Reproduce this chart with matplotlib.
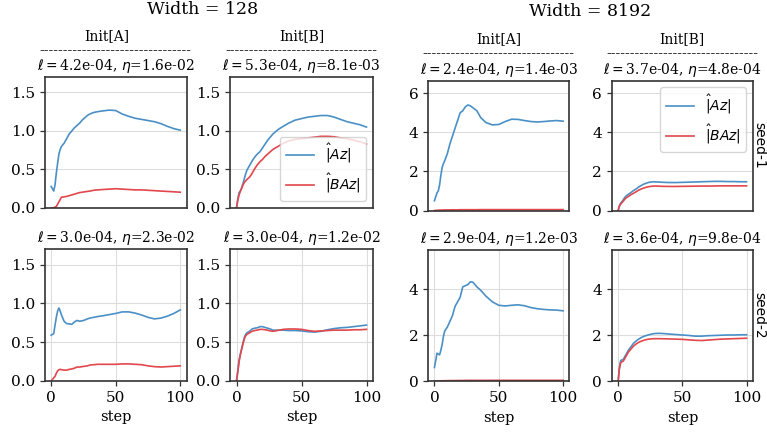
import matplotlib
matplotlib.use("Agg")
import matplotlib.pyplot as plt

steps = [0, 1, 2, 3, 4, 5, 6, 7, 8, 10, 12, 14, 16, 18, 20, 22, 24, 26, 28, 30,
         33, 36, 40, 45, 50, 55, 60, 65, 70, 75, 80, 85, 90, 95, 100]

# width 128, Init[A], seed-1
az_128_a_s1 = [0.28, 0.25, 0.22, 0.30, 0.45, 0.58, 0.70, 0.76, 0.80, 0.84, 0.90, 0.96, 1.00, 1.04,
               1.07, 1.10, 1.14, 1.17, 1.20, 1.22, 1.24, 1.25, 1.26, 1.27, 1.265, 1.22, 1.19,
               1.165, 1.15, 1.135, 1.12, 1.095, 1.06, 1.03, 1.01]
baz_128_a_s1 = [0.0, 0.0, 0.005, 0.01, 0.02, 0.05, 0.08, 0.11, 0.14, 0.145, 0.15, 0.16, 0.17,
                0.18, 0.19, 0.20, 0.205, 0.21, 0.215, 0.22, 0.23, 0.235, 0.24, 0.245, 0.25,
                0.245, 0.24, 0.235, 0.235, 0.23, 0.225, 0.22, 0.215, 0.21, 0.205]
# width 128, Init[B], seed-1
az_128_b_s1 = [0.0, 0.12, 0.20, 0.22, 0.26, 0.32, 0.38, 0.44, 0.49, 0.55, 0.61, 0.66, 0.70, 0.73,
               0.78, 0.83, 0.88, 0.92, 0.96, 0.99, 1.03, 1.06, 1.10, 1.14, 1.16, 1.18, 1.19,
               1.20, 1.20, 1.18, 1.15, 1.12, 1.10, 1.08, 1.05]
baz_128_b_s1 = [0.0, 0.10, 0.17, 0.22, 0.26, 0.30, 0.33, 0.35, 0.37, 0.40, 0.45, 0.51, 0.56, 0.60,
                0.63, 0.67, 0.70, 0.73, 0.76, 0.78, 0.81, 0.84, 0.87, 0.89, 0.90, 0.91, 0.92,
                0.93, 0.93, 0.925, 0.91, 0.90, 0.88, 0.86, 0.83]
# width 128, Init[A], seed-2
az_128_a_s2 = [0.59, 0.60, 0.61, 0.72, 0.82, 0.90, 0.94, 0.90, 0.85, 0.77, 0.74, 0.735, 0.73,
               0.76, 0.78, 0.77, 0.775, 0.785, 0.80, 0.81, 0.82, 0.83, 0.84, 0.855, 0.87, 0.89,
               0.89, 0.875, 0.85, 0.82, 0.80, 0.81, 0.835, 0.87, 0.915]
baz_128_a_s2 = [0.0, 0.02, 0.04, 0.06, 0.10, 0.13, 0.145, 0.15, 0.145, 0.14, 0.14, 0.15, 0.155,
                0.165, 0.18, 0.18, 0.185, 0.19, 0.195, 0.205, 0.21, 0.215, 0.215, 0.215, 0.215,
                0.22, 0.22, 0.215, 0.21, 0.195, 0.185, 0.18, 0.185, 0.19, 0.195]
# width 128, Init[B], seed-2
az_128_b_s2 = [0.0, 0.13, 0.27, 0.35, 0.42, 0.49, 0.56, 0.60, 0.62, 0.64, 0.67, 0.68, 0.685,
               0.70, 0.70, 0.69, 0.68, 0.67, 0.655, 0.655, 0.655, 0.655, 0.65, 0.65, 0.645,
               0.635, 0.63, 0.64, 0.66, 0.675, 0.685, 0.69, 0.70, 0.71, 0.72]
baz_128_b_s2 = [0.0, 0.12, 0.25, 0.34, 0.41, 0.48, 0.54, 0.58, 0.60, 0.62, 0.64, 0.65, 0.655,
                0.665, 0.665, 0.66, 0.655, 0.645, 0.64, 0.645, 0.655, 0.665, 0.67, 0.67, 0.665,
                0.65, 0.64, 0.645, 0.65, 0.655, 0.655, 0.655, 0.66, 0.66, 0.665]

# width 8192, Init[A], seed-1
az_8192_a_s1 = [0.5, 0.7, 0.9, 1.0, 1.3, 1.8, 2.2, 2.4, 2.55, 2.9, 3.4, 3.8, 4.2, 4.6, 5.0, 5.1,
                5.3, 5.4, 5.35, 5.25, 5.1, 4.75, 4.5, 4.38, 4.4, 4.55, 4.67, 4.66, 4.6, 4.55,
                4.53, 4.55, 4.58, 4.6, 4.57]
baz_8192_a_s1 = [0.0, 0.005, 0.01, 0.015, 0.02, 0.02, 0.025, 0.025, 0.03, 0.03, 0.03, 0.035,
                 0.035, 0.035, 0.04, 0.04, 0.04, 0.04, 0.04, 0.04, 0.04, 0.045, 0.045, 0.045,
                 0.045, 0.045, 0.045, 0.045, 0.045, 0.045, 0.045, 0.045, 0.045, 0.045, 0.045]
# width 8192, Init[B], seed-1
az_8192_b_s1 = [0.0, 0.25, 0.38, 0.45, 0.55, 0.65, 0.73, 0.78, 0.83, 0.92, 1.02, 1.10, 1.20,
                1.28, 1.35, 1.40, 1.44, 1.46, 1.47, 1.46, 1.45, 1.44, 1.43, 1.43, 1.44, 1.45,
                1.46, 1.47, 1.48, 1.49, 1.49, 1.48, 1.48, 1.47, 1.47]
baz_8192_b_s1 = [0.0, 0.22, 0.33, 0.40, 0.48, 0.56, 0.63, 0.68, 0.72, 0.81, 0.88, 0.96, 1.04,
                 1.10, 1.15, 1.19, 1.22, 1.24, 1.25, 1.25, 1.24, 1.235, 1.23, 1.23, 1.235, 1.24,
                 1.245, 1.25, 1.25, 1.255, 1.26, 1.26, 1.26, 1.26, 1.26]
# width 8192, Init[A], seed-2
az_8192_a_s2 = [0.6, 0.9, 1.22, 1.18, 1.15, 1.35, 1.6, 1.95, 2.18, 2.35, 2.6, 2.85, 3.25, 3.45,
                3.65, 4.1, 4.15, 4.2, 4.32, 4.3, 4.1, 3.95, 3.7, 3.45, 3.3, 3.27, 3.3, 3.32,
                3.28, 3.2, 3.15, 3.12, 3.1, 3.09, 3.06]
baz_8192_a_s2 = [0.0, 0.005, 0.01, 0.012, 0.015, 0.018, 0.02, 0.022, 0.025, 0.028, 0.03, 0.03,
                 0.032, 0.035, 0.035, 0.035, 0.038, 0.04, 0.04, 0.04, 0.04, 0.04, 0.04, 0.042,
                 0.042, 0.042, 0.042, 0.042, 0.042, 0.042, 0.042, 0.042, 0.042, 0.042, 0.042]
# width 8192, Init[B], seed-2
az_8192_b_s2 = [0.0, 0.6, 0.9, 0.93, 0.95, 1.05, 1.15, 1.25, 1.35, 1.5, 1.65, 1.75, 1.83, 1.9,
                1.95, 1.99, 2.02, 2.05, 2.07, 2.08, 2.08, 2.07, 2.05, 2.03, 2.01, 1.99, 1.96,
                1.96, 1.98, 1.99, 2.0, 2.01, 2.01, 2.02, 2.02]
baz_8192_b_s2 = [0.0, 0.55, 0.8, 0.85, 0.88, 0.97, 1.07, 1.17, 1.27, 1.4, 1.53, 1.62, 1.69,
                 1.74, 1.78, 1.81, 1.83, 1.845, 1.85, 1.85, 1.85, 1.845, 1.84, 1.83, 1.82, 1.8,
                 1.78, 1.77, 1.79, 1.81, 1.83, 1.84, 1.85, 1.86, 1.87]

widths = ["128", "8192"]
inits = ["Init[A]", "Init[B]"]
seeds = ["seed-1", "seed-2"]
hparams = [
    ["4.2e-04", "1.6e-02", "5.3e-04", "8.1e-03", "2.4e-04", "1.4e-03", "3.7e-04", "4.8e-04"],
    ["3.0e-04", "2.3e-02", "3.0e-04", "1.2e-02", "2.9e-04", "1.2e-03", "3.6e-04", "9.8e-04"],
]
series = [
    [(az_128_a_s1, baz_128_a_s1), (az_128_b_s1, baz_128_b_s1),
     (az_8192_a_s1, baz_8192_a_s1), (az_8192_b_s1, baz_8192_b_s1)],
    [(az_128_a_s2, baz_128_a_s2), (az_128_b_s2, baz_128_b_s2),
     (az_8192_a_s2, baz_8192_a_s2), (az_8192_b_s2, baz_8192_b_s2)],
]

plt.rcParams["font.family"] = "DejaVu Serif"
plt.rcParams["mathtext.fontset"] = "dejavusans"

W, H = 767, 432
fig = plt.figure(figsize=(W / 100, H / 100), dpi=100)

blue = "#4a90c6"
red = "#e2474c"

# pixel boxes: left, right for columns; top, bottom for rows (per group)
cols = [(44.7, 186.7), (230, 373), (428, 569.5), (611.7, 753)]
rows_left = [(77, 208), (249, 381)]
rows_right = [(80.5, 210.5), (250, 381.3)]
ylims = [[1.7, 1.7, 6.65, 6.65], [1.7, 1.7, 5.7, 5.7]]
init_x = [0.437, 0.5, 0.5, 0.5]

for r in range(2):
    for c in range(4):
        x0, x1 = cols[c]
        y0, y1 = rows_left[r] if c < 2 else rows_right[r]
        ax = fig.add_axes([x0 / W, 1 - y1 / H, (x1 - x0) / W, (y1 - y0) / H])
        az, baz = series[r][c]
        ax.plot(steps, az, color=blue, lw=1.2, label=r"$\hat{|}Az|$")
        ax.plot(steps, baz, color=red, lw=1.2, label=r"$\hat{|}BAz|$")
        ax.set_xlim(-5, 105)
        ax.set_ylim(0, ylims[r][c])
        if c < 2:
            ax.set_yticks([0, 0.5, 1.0, 1.5])
            ax.set_yticklabels(["0.0", "0.5", "1.0", "1.5"])
        else:
            ax.set_yticks([0, 2, 4, 6] if r == 0 else [0, 2, 4])
        ax.grid(True, color="#dddddd", lw=0.8)
        ax.set_axisbelow(True)
        if r == 0:
            ax.set_xticks([])
        else:
            ax.set_xticks([0, 50, 100])
            ax.set_xlabel("step", fontsize=10.5)
        ax.tick_params(labelsize=11, length=3.5, width=0.9, color="#333333")
        for s in ax.spines.values():
            s.set_color("#333333")
            s.set_linewidth(1.2)
        lr, eta = hparams[r][2 * c], hparams[r][2 * c + 1]
        ax.set_title(r"$\ell = $" + lr + r", $\eta$=" + eta, fontsize=10, pad=5)
        if r == 0:
            ax.text(init_x[c], 1.315, inits[c % 2], transform=ax.transAxes, ha="center",
                    va="center", fontsize=10)
            ax.text(0.5, 1.2, "-" * 32, transform=ax.transAxes, ha="center",
                    va="center", fontsize=10)
        if c == 3:
            ax.text(0.995, 0.5, seeds[r], transform=ax.transAxes, rotation=270,
                    ha="left", va="center", fontsize=10, family="DejaVu Sans")
        if r == 0 and c == 1:
            ax.legend(loc="lower right", fontsize=10)
        if r == 0 and c == 3:
            ax.legend(loc="upper right", fontsize=10)

fig.text(203 / W, 1 - 10 / H, "Width = " + widths[0], ha="center", va="center", fontsize=12.5)
fig.text(590 / W, 1 - 12 / H, "Width = " + widths[1], ha="center", va="center", fontsize=12.5)

fig.savefig("out.png", dpi=100)
